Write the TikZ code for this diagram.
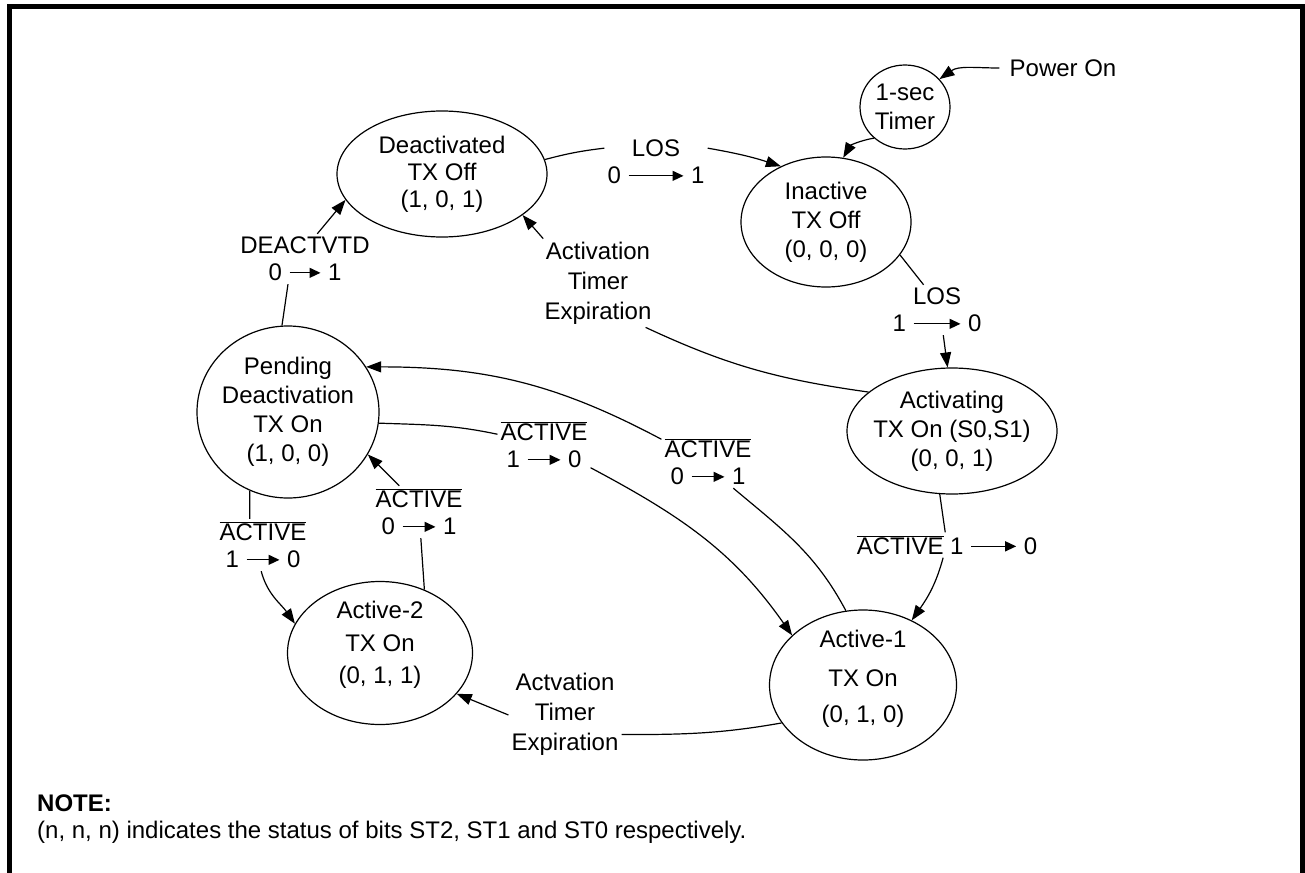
\documentclass[tikz,border=0pt]{standalone}
\usepackage{fontspec}
\setmainfont{Liberation Sans}
\usetikzlibrary{arrows.meta,shapes.geometric}

\newcommand{\bitarrow}[1]{\hspace{7pt}\tikz[baseline=-0.33em]\draw[line width=1.3pt,-{Triangle[length=11pt,width=10pt]}] (0pt,0pt) -- (#1pt,0pt);\hspace{7pt}}
\newcommand{\nactive}{$\overline{\mbox{ACTIVE}}$}

\begin{document}
\begin{tikzpicture}[x=1pt,y=-1pt,
    st/.style={draw, ellipse, line width=1.2pt, align=center, inner sep=-8pt, font=\fontsize{24}{29}\selectfont},
    lbl/.style={align=center, inner sep=3pt, font=\fontsize{24}{27}\selectfont},
    trans/.style={line width=1.2pt},
    tarrow/.style={trans, -{Triangle[length=15pt,width=11pt]}}]
  \useasboundingbox (0,0) rectangle (1305,872);
  \draw [line width=5pt] (9,890) -- (9,7) -- (1302,7) -- (1302,890);

  % states
  \node [st, minimum width=210pt, minimum height=126pt, font=\fontsize{24}{27}\selectfont] (deact) at (442,174) {Deactivated\\TX Off\\(1, 0, 1)};
  \node [st, minimum width=170pt, minimum height=130pt] (inact) at (826,222) {Inactive\\TX Off\\(0, 0, 0)};
  \node [st, minimum width=90pt, minimum height=84pt] (timer) at (905,107) {1-sec\\Timer};
  \node [st, minimum width=210pt, minimum height=126pt] (activ) at (952,431) {Activating\\TX On (S0,S1)\\(0, 0, 1)};
  \node [st, minimum width=182pt, minimum height=172pt] (pend) at (288,412) {Pending\\Deactivation\\TX On\\(1, 0, 0)};
  \node [st, minimum width=187pt, minimum height=150pt] (act1) at (863,685) {Active-1\\[10pt]TX On\\[7pt](0, 1, 0)\rule[-18pt]{0pt}{0pt}};
  \node [st, minimum width=185pt, minimum height=143pt] (act2) at (380,653) {Active-2\\[4pt]TX On\\[3pt](0, 1, 1)\rule[-21pt]{0pt}{0pt}};

  % transition labels
  \node [lbl, inner sep=10pt] (pwr) at (1063,68) {Power On};
  \node [lbl] (los1) at (656,162) {LOS\\0\bitarrow{55}1};
  \node [lbl] (los2) at (937,310) {LOS\\1\bitarrow{47}0};
  \node [lbl] (deacl) at (305,259) {DEACTVTD\\0\bitarrow{31}1};
  \node [lbl, font=\fontsize{24}{30}\selectfont] (atexp) at (598,283) {Activation\\Timer\\Expiration};
  \node [lbl] (act10r) at (947,545) {\nactive{} 1\bitarrow{45}0};
  \node [lbl] (a01m) at (708,462) {\nactive\\0\bitarrow{33}1};
  \node [lbl] (a10m) at (544,445) {\nactive\\1\bitarrow{33}0};
  \node [lbl] (a10l) at (263,545) {\nactive\\1\bitarrow{33}0};
  \node [lbl] (a01l) at (419,512) {\nactive\\0\bitarrow{33}1};
  \node [lbl, font=\fontsize{24}{30}\selectfont] (atexp2) at (565,714) {Actvation\\Timer\\Expiration};

  % transitions
  \draw [tarrow] (pwr.west) to[out=180,in=35] (timer.39);
  \draw [tarrow] (timer.225) to[out=190,in=60] (inact.75);
  \draw [trans] (deact.8) to[bend left=4] (los1.165);
  \draw [tarrow] (los1.15) to[bend left=4] (inact.129);
  \draw [trans] (inact.336) -- (los2.118);
  \draw [tarrow] (los2.284) -- (activ.94);
  \draw [trans] (activ.259) -- (act10r.98);
  \draw [tarrow] (act10r.253) to[out=-105,in=55] (act1.53);
  \draw [trans] (pend.94) -- (deacl.236);
  \draw [tarrow] (deacl.64) -- (deact.195);
  \draw [trans] (activ.155) to[out=172,in=-25] (atexp.317);
  \draw [tarrow] (atexp.141) -- (deact.333);
  \draw [trans] (act1.103) to[out=118,in=-40] (a01m.314);
  \draw [tarrow] (a01m.154) to[out=152,in=0] (pend.30);
  \draw [trans] (pend.353) to[out=-2,in=168] (a10m.167);
  \draw [tarrow] (a10m.334) to[out=-28,in=125] (act1.145);
  \draw [trans] (pend.244) -- (a10l.117);
  \draw [tarrow] (a10l.266) to[out=-75,in=125] (act2.161);
  \draw [trans] (act2.55) -- (a01l.274);
  \draw [tarrow] (a01l.127) -- (pend.332);
  \draw [trans] (act1.205) to[out=190,in=0] (atexp2.340);
  \draw [tarrow] (atexp2.181) -- (act2.332);

  % note
  \node [lbl, anchor=west, inner sep=0pt] (note) at (37,803) {\textbf{NOTE:}};
  \node [lbl, anchor=west, inner sep=0pt] (notetxt) at (37,832) {(n, n, n) indicates the status of bits ST2, ST1 and ST0 respectively.};
\end{tikzpicture}
\end{document}
